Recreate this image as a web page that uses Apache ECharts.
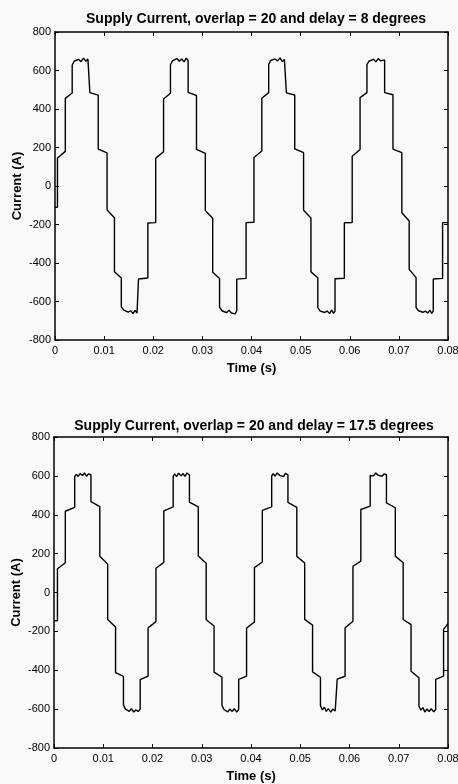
<!DOCTYPE html>
<html>
<head>
<meta charset="utf-8">
<script src="https://cdn.jsdelivr.net/npm/echarts@6/dist/echarts.min.js"></script>
<style>
html,body{margin:0;padding:0;background:#f9f9f9;}
#chart{width:458px;height:784px;}
</style>
</head>
<body>
<div id="chart"></div>
<script>
var topTitle = 'Supply Current, overlap = 20 and delay = 8 degrees';
var bottomTitle = 'Supply Current, overlap = 20 and delay = 17.5 degrees';
var xTicks = [0, 0.01, 0.02, 0.03, 0.04, 0.05, 0.06, 0.07, 0.08];
var yTicks = [-800, -600, -400, -200, 0, 200, 400, 600, 800];

var topTime = [
0, 0.0005, 0.0005, 0.0021, 0.0021, 0.0035, 0.0035, 0.0039, 0.0043, 0.0048, 0.0053, 0.0058, 0.0063, 0.0067, 0.0071, 0.0071, 0.0088, 0.0088, 0.0106, 0.0106, 0.0121, 0.0121, 0.0135, 0.0135, 0.0140, 0.0144, 0.0149, 0.0154, 0.0159, 0.0163, 0.0167, 0.0170, 0.0170, 0.0189, 0.0189, 0.0205,
0.0205, 0.0221, 0.0221, 0.0235, 0.0235, 0.0239, 0.0243, 0.0248, 0.0253, 0.0258, 0.0263, 0.0267, 0.0271, 0.0271, 0.0288, 0.0288, 0.0306, 0.0306, 0.0321, 0.0321, 0.0335, 0.0335, 0.0340, 0.0344, 0.0349, 0.0354, 0.0359, 0.0363, 0.0367, 0.0370, 0.0370, 0.0389, 0.0389, 0.0405,
0.0405, 0.0421, 0.0421, 0.0435, 0.0435, 0.0439, 0.0443, 0.0448, 0.0453, 0.0458, 0.0463, 0.0467, 0.0471, 0.0471, 0.0488, 0.0488, 0.0506, 0.0506, 0.0521, 0.0521, 0.0535, 0.0535, 0.0540, 0.0544, 0.0549, 0.0554, 0.0559, 0.0563, 0.0567, 0.0570, 0.0570, 0.0589, 0.0589, 0.0605,
0.0605, 0.0621, 0.0621, 0.0635, 0.0635, 0.0639, 0.0643, 0.0648, 0.0653, 0.0658, 0.0663, 0.0667, 0.0671, 0.0671, 0.0688, 0.0688, 0.0706, 0.0706, 0.0721, 0.0721, 0.0735, 0.0735, 0.0740, 0.0744, 0.0749, 0.0754, 0.0759, 0.0763, 0.0767, 0.0770, 0.0770, 0.0789, 0.0789, 0.0800
];
var topCurrent = [
-110, -110, 145, 180, 455, 483, 628, 648, 640, 658, 646, 664, 648, 660, 650, 485, 472, 192, 172, -125, -165, -445, -478, -628, -645, -640, -655, -648, -662, -646, -660, -652, -483, -478, -192, -190,
145, 178, 452, 482, 630, 650, 642, 662, 648, 660, 645, 664, 652, 486, 470, 190, 170, -128, -168, -448, -480, -630, -648, -642, -658, -645, -660, -650, -664, -648, -484, -480, -190, -188,
148, 182, 456, 485, 632, 652, 644, 660, 650, 665, 646, 658, 650, 484, 473, 193, 173, -126, -166, -446, -477, -632, -650, -641, -657, -649, -663, -645, -661, -650, -482, -479, -191, -190,
155, 190, 459, 485, 632, 648, 640, 658, 645, 662, 650, 660, 655, 485, 474, 192, 173, -139, -182, -433, -476, -632, -648, -640, -656, -650, -660, -645, -662, -650, -483, -480, -190, -190
];

var bottomTime = [
0, 0.0007, 0.0007, 0.0023, 0.0023, 0.0042, 0.0042, 0.0045, 0.0049, 0.0053, 0.0058, 0.0062, 0.0066, 0.0070, 0.0075, 0.0075, 0.0093, 0.0093, 0.0109, 0.0109, 0.0125, 0.0125, 0.0141, 0.0141, 0.0145, 0.0149, 0.0153, 0.0157, 0.0162, 0.0166, 0.0171, 0.0175, 0.0175, 0.0191, 0.0191, 0.0207,
0.0207, 0.0223, 0.0223, 0.0242, 0.0242, 0.0245, 0.0249, 0.0253, 0.0258, 0.0262, 0.0266, 0.0270, 0.0275, 0.0275, 0.0293, 0.0293, 0.0309, 0.0309, 0.0325, 0.0325, 0.0341, 0.0341, 0.0345, 0.0349, 0.0353, 0.0357, 0.0362, 0.0366, 0.0371, 0.0375, 0.0375, 0.0391, 0.0391, 0.0407,
0.0407, 0.0423, 0.0423, 0.0442, 0.0442, 0.0445, 0.0449, 0.0453, 0.0458, 0.0462, 0.0466, 0.0470, 0.0475, 0.0475, 0.0493, 0.0493, 0.0509, 0.0509, 0.0525, 0.0525, 0.0541, 0.0541, 0.0545, 0.0549, 0.0553, 0.0557, 0.0562, 0.0566, 0.0571, 0.0575, 0.0575, 0.0591, 0.0591, 0.0607,
0.0607, 0.0623, 0.0623, 0.0642, 0.0642, 0.0645, 0.0649, 0.0653, 0.0658, 0.0662, 0.0666, 0.0670, 0.0675, 0.0675, 0.0693, 0.0693, 0.0709, 0.0709, 0.0725, 0.0725, 0.0741, 0.0741, 0.0745, 0.0749, 0.0753, 0.0757, 0.0762, 0.0766, 0.0771, 0.0775, 0.0775, 0.0791, 0.0791, 0.0800
];
var bottomCurrent = [
-145, -145, 122, 153, 418, 438, 596, 608, 597, 612, 602, 615, 598, 610, 606, 468, 442, 187, 146, -139, -178, -412, -432, -578, -600, -590, -612, -598, -615, -604, -612, -600, -448, -430, -182, -150,
125, 155, 420, 440, 598, 610, 596, 614, 600, 612, 597, 615, 604, 465, 440, 188, 150, -140, -172, -410, -435, -580, -602, -592, -614, -600, -612, -598, -615, -602, -447, -430, -183, -152,
128, 157, 422, 441, 600, 612, 598, 615, 603, 610, 596, 613, 605, 464, 438, 186, 152, -138, -168, -408, -436, -582, -604, -590, -612, -597, -615, -600, -610, -603, -446, -431, -182, -148,
135, 161, 427, 444, 602, 612, 600, 615, 604, 614, 598, 610, 606, 461, 436, 187, 153, -139, -165, -405, -439, -585, -605, -592, -615, -600, -612, -598, -614, -602, -447, -430, -190, -160
];

function pairs(t, v) { return t.map(function (x, i) { return [x, v[i]]; }); }

var FONT = 'Liberation Sans, Arial, sans-serif';
var xMin = xTicks[0], xMax = xTicks[xTicks.length - 1], xInt = xTicks[1] - xTicks[0];
var yMin = yTicks[0], yMax = yTicks[yTicks.length - 1], yInt = yTicks[1] - yTicks[0];

function xLabel(v) { return v === 0 ? '0' : v.toFixed(2); }

function makeX(grid, pos, showLabels, name) {
  return {
    type: 'value', gridIndex: grid, position: pos, min: xMin, max: xMax, interval: xInt,
    name: name || '', nameLocation: 'middle', nameGap: 22, nameMoveOverlap: false,
    nameTextStyle: { fontFamily: FONT, fontSize: 13, fontWeight: 'bold', color: '#000' },
    axisLine: { show: true, onZero: false, lineStyle: { color: '#000', width: 1.5 } },
    axisTick: { show: true, inside: true, length: 4, lineStyle: { color: '#000', width: 1 } },
    axisLabel: { show: showLabels, formatter: xLabel, fontFamily: FONT, fontSize: 11, color: '#000', margin: 5 },
    splitLine: { show: false }
  };
}
function makeY(grid, pos, showLabels, name) {
  return {
    type: 'value', gridIndex: grid, position: pos, min: yMin, max: yMax, interval: yInt,
    name: name || '', nameLocation: 'middle', nameGap: 31, nameRotate: 90, nameMoveOverlap: false,
    nameTextStyle: { fontFamily: FONT, fontSize: 13, fontWeight: 'bold', color: '#000' },
    axisLine: { show: true, onZero: false, lineStyle: { color: '#000', width: 1.5 } },
    axisTick: { show: true, inside: true, length: 4, lineStyle: { color: '#000', width: 1 } },
    axisLabel: { show: showLabels, fontFamily: FONT, fontSize: 11, color: '#000', margin: 4 },
    splitLine: { show: false }
  };
}

var chart = echarts.init(document.getElementById('chart'), null, { renderer: 'canvas' });
chart.setOption({
  backgroundColor: '#f9f9f9',
  animation: false,
  title: [
    { text: topTitle, left: 251, top: 7, textAlign: 'center',
      textStyle: { fontFamily: FONT, fontSize: 14, fontWeight: 'bold', color: '#000' } },
    { text: bottomTitle, left: 249, top: 414, textAlign: 'center',
      textStyle: { fontFamily: FONT, fontSize: 14, fontWeight: 'bold', color: '#000' } }
  ],
  grid: [
    { left: 55, top: 32, width: 393, height: 308, containLabel: false, outerBoundsMode: 'none' },
    { left: 54, top: 437, width: 394, height: 311, containLabel: false, outerBoundsMode: 'none' }
  ],
  xAxis: [
    makeX(0, 'bottom', true, 'Time (s)'), makeX(0, 'top', false),
    makeX(1, 'bottom', true, 'Time (s)'), makeX(1, 'top', false)
  ],
  yAxis: [
    makeY(0, 'left', true, 'Current (A)'), makeY(0, 'right', false),
    makeY(1, 'left', true, 'Current (A)'), makeY(1, 'right', false)
  ],
  series: [
    { type: 'line', xAxisIndex: 0, yAxisIndex: 0, data: pairs(topTime, topCurrent),
      showSymbol: false, lineStyle: { color: '#000', width: 1.4 } },
    { type: 'line', xAxisIndex: 2, yAxisIndex: 2, data: pairs(bottomTime, bottomCurrent),
      showSymbol: false, lineStyle: { color: '#000', width: 1.4 } }
  ]
});
</script>
</body>
</html>
